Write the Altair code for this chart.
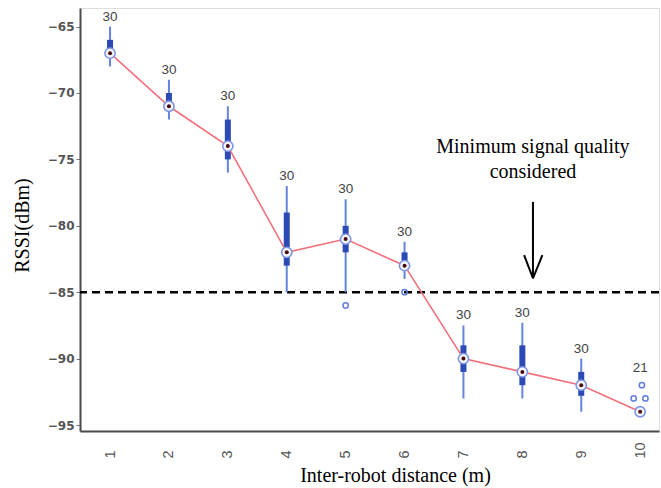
import altair as alt
import pandas as pd

# ---- data ----
distance = [1, 2, 3, 4, 5, 6, 7, 8, 9, 10]
n_samples = [30, 30, 30, 30, 30, 30, 30, 30, 30, 21]
whisker_low = [-68, -72, -76, -85, -85, -84, -93, -93, -94, -94]
q1 = [-67, -71, -75, -83, -82, -83.3, -91, -92, -92.8, -94]
median = [-67, -71, -74, -82, -81, -83, -90, -91, -92, -94]
q3 = [-66, -70, -72, -79, -80, -82, -89, -89, -91, -94]
whisker_high = [-65, -69, -71, -77, -78, -81.2, -87.5, -87.3, -90, -94]

outlier_distance = [5, 6, 10, 10, 10]
outlier_jitter = [0, 0, 0.03, -0.11, 0.09]
outlier_rssi = [-86, -85, -92, -93, -93]

y_ticks = [-65, -70, -75, -80, -85, -90, -95]
threshold = -85
annotation_lines = ["Minimum signal quality", "considered"]
annotation_x = 8.18
annotation_y = [-74.07, -75.95]
arrow_x = [8.18, 8.03, 8.34]
arrow_y = [-78.2, -82.2, -82.2]
arrow_x2 = [8.18, 8.18, 8.18]
arrow_y2 = [-83.95, -83.95, -83.95]

# ---- tables ----
boxes = pd.DataFrame({
    "d": distance, "n": n_samples, "lo": whisker_low, "q1": q1,
    "med": median, "q3": q3, "hi": whisker_high,
})
outl = pd.DataFrame({
    "d": outlier_distance,
    "dx": [a + b for a, b in zip(outlier_distance, outlier_jitter)],
    "rssi": outlier_rssi,
})
tops, above_outlier = [], []
for d, hi in zip(distance, whisker_high):
    o = [r for od, r in zip(outlier_distance, outlier_rssi) if od == d and r > hi]
    if o:
        tops.append(max(o)); above_outlier.append(1)
    else:
        tops.append(hi); above_outlier.append(0)
boxes["top"] = tops
boxes["ao"] = above_outlier

ann = pd.DataFrame({"x": [annotation_x] * 2, "y": annotation_y, "t": annotation_lines})
arrow = pd.DataFrame({"x": arrow_x, "y": arrow_y, "x2": arrow_x2, "y2": arrow_y2})

xs = alt.Scale(domain=[0.49, 10.32], nice=False, zero=False)
ys = alt.Scale(domain=[-95.45, -63.6], nice=False, zero=False)

X = alt.X("d:Q", scale=xs, axis=alt.Axis(
    values=distance, format="d", title="Inter-robot distance (m)", labelAngle=270,
    labelAlign="left", labelBaseline="middle", labelPadding=27, ticks=False,
    grid=False, domainColor="#4a4a4a", domainWidth=2, labelColor="#555555",
    labelFont="Liberation Sans", labelFontSize=14.5,
    titleFont="Liberation Serif", titleFontSize=20, titleFontWeight="normal",
    titleColor="#000000", titleX=315, titleY=44, titleBaseline="middle",
    titleAnchor="start", titleAlign="center"))
Y = alt.Y("lo:Q", scale=ys, axis=alt.Axis(
    values=y_ticks, title="RSSI(dBm)", grid=False, tickSize=4,
    tickColor="#777777", domainColor="#4a4a4a", domainWidth=2,
    labelColor="#555555", labelFont="DejaVu Sans", labelFontSize=12,
    labelFontWeight="bold", labelPadding=2,
    titleFont="Liberation Serif", titleFontSize=20, titleFontWeight="normal",
    titleColor="#000000", titleX=-58, titleY=217, titleAngle=270,
    titleBaseline="middle", titleAlign="center"))

base = alt.Chart(boxes)

whiskers = base.mark_rule(color="#6584db", strokeWidth=2).encode(
    x=X, y=Y, y2="hi:Q")
box = base.mark_rule(color="#2b4ab5", strokeWidth=6, strokeCap="butt").encode(
    x="d:Q", y=alt.Y("q1:Q"), y2="q3:Q")
line = base.mark_line(color="#f2707c", strokeWidth=1.6).encode(
    x="d:Q", y=alt.Y("med:Q"))
ring = base.mark_point(shape="circle", filled=True, fill="#f4f6fd",
                       stroke="#7f95e2", strokeWidth=1.6, size=105,
                       opacity=1).encode(x="d:Q", y=alt.Y("med:Q"))
dot = base.mark_point(shape="circle", filled=True, color="#4a0a12",
                      size=16, opacity=1).encode(x="d:Q", y=alt.Y("med:Q"))
counts_w = base.transform_filter("datum.ao == 0").mark_text(
    font="Liberation Sans", fontSize=13.5, color="#444444",
    baseline="middle", dy=-10).encode(x="d:Q", y=alt.Y("top:Q"), text="n:Q")
counts_o = base.transform_filter("datum.ao == 1").mark_text(
    font="Liberation Sans", fontSize=13.5, color="#444444",
    baseline="middle", dy=-17).encode(x="d:Q", y=alt.Y("top:Q"), text="n:Q")
outs = alt.Chart(outl).mark_point(shape="circle", filled=False,
                                  color="#5f7ddc", strokeWidth=1.5,
                                  size=28, opacity=1).encode(
    x="dx:Q", y=alt.Y("rssi:Q"))
thr = alt.Chart(pd.DataFrame({"v": [threshold]})).mark_rule(
    color="#000000", strokeWidth=2.5, strokeDash=[8, 5]).encode(y="v:Q")
txt = alt.Chart(ann).mark_text(font="Liberation Serif", fontSize=20,
                               color="#000000", baseline="middle").encode(
    x="x:Q", y="y:Q", text="t:N")
arr = alt.Chart(arrow).mark_rule(color="#000000", strokeWidth=2).encode(
    x="x:Q", y="y:Q", x2="x2:Q", y2="y2:Q")

chart = alt.layer(thr, whiskers, box, line, ring, dot, outs, counts_w, counts_o,
                  txt, arr).properties(
    width=579, height=423,
    autosize=alt.AutoSizeParams(type="none"),
    padding={"left": 80, "top": 8, "right": 2, "bottom": 57},
).configure_view(stroke="#9a9a9a", strokeWidth=1.5).configure(background="white")

chart.save("out.html", embed_options={"renderer": "svg", "actions": False})
